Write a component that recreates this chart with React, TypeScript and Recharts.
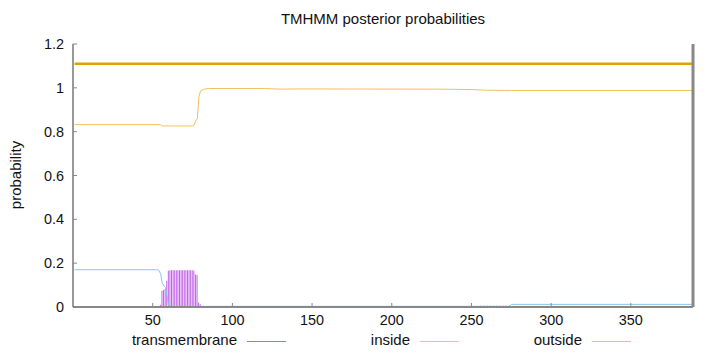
import { ComposedChart, Line, Bar, XAxis, YAxis } from "recharts";

// residue axis
const xTicks = [50, 100, 150, 200, 250, 300, 350];
const yTicks = [0, 0.2, 0.4, 0.6, 0.8, 1, 1.2];

// transmembrane posterior, drawn as impulses
const tmResidues = [
  55, 56, 57, 58, 59, 60, 61, 62, 63, 64, 65, 66, 67, 68, 69, 70, 71, 72, 73, 74, 75, 76, 77, 78, 79, 80, 81,
  232, 234, 236, 238, 240, 242, 244, 246, 248, 250, 252, 254, 256, 258, 260, 262, 264, 266, 268, 270, 272, 274,
];
const tmValues = [
  0.01, 0.074, 0.078, 0.082, 0.12, 0.165, 0.168, 0.168, 0.168, 0.168, 0.168, 0.168, 0.168, 0.168, 0.168, 0.168,
  0.168, 0.168, 0.168, 0.168, 0.168, 0.166, 0.148, 0.146, 0.02, 0.012, 0.005,
  0.002, 0.002, 0.002, 0.002, 0.002, 0.002, 0.002, 0.002, 0.002, 0.002, 0.002, 0.002, 0.006, 0.006, 0.006,
  0.006, 0.006, 0.006, 0.006, 0.006, 0.006, 0.006,
];

// inside posterior
const insideResidues = [1, 53, 54, 55, 56, 57, 58, 59, 60, 62, 274, 275, 389];
const insideValues = [0.17, 0.17, 0.166, 0.15, 0.11, 0.097, 0.09, 0.05, 0.008, 0.003, 0.003, 0.012, 0.012];

// outside posterior
const outsideResidues = [1, 55, 56, 75, 76, 77, 78, 79, 80, 82, 85, 120, 130, 140, 230, 250, 260, 275, 389];
const outsideValues = [
  0.832, 0.832, 0.826, 0.826, 0.83, 0.85, 0.86, 0.96, 0.985, 0.993, 0.997, 0.997, 0.994, 0.995, 0.994, 0.992,
  0.989, 0.988, 0.988,
];

// predicted topology bar (outside over whole sequence)
const topoResidues = [1, 389];
const topoLevel = [1.11, 1.11];

const tmData = tmResidues.map((pos, i) => ({ pos, tm: tmValues[i] }));
const insideData = insideResidues.map((pos, i) => ({ pos, p: insideValues[i] }));
const outsideData = outsideResidues.map((pos, i) => ({ pos, p: outsideValues[i] }));
const topoData = topoResidues.map((pos, i) => ({ pos, p: topoLevel[i] }));

const FONT = "'Liberation Sans', Arial, sans-serif";
const TM_COLOR = "#c160e6";
const IN_COLOR = "#87c8ea";
const OUT_COLOR = "#f0c060";

const XTick = (props: any) => {
  const { x, y, payload } = props;
  return (
    <g>
      <line x1={x} x2={x} y1={y - 8} y2={y - 12} stroke="#888" />
      <text x={x} y={y} dy="0.71em" textAnchor="middle" fontSize={14.4} fontFamily={FONT} fill="#111">
        {payload.value}
      </text>
    </g>
  );
};

const YTick = (props: any) => {
  const { x, y, payload } = props;
  return (
    <g>
      <line x1={x + 9} x2={x + 13} y1={y} y2={y} stroke="#888" />
      <text x={x} y={y} dy="0.355em" textAnchor="end" fontSize={14.4} fontFamily={FONT} fill="#111">
        {payload.value}
      </text>
    </g>
  );
};

const RightTick = (props: any) => {
  const { x, y } = props;
  return <line x1={x - 1} x2={x - 5} y1={y} y2={y} stroke="#888" />;
};

const legendItems = [
  { name: "transmembrane", color: "#b070e0", textRight: 237, lineLeft: 247 },
  { name: "inside", color: "#a8d4e6", textRight: 410, lineLeft: 420 },
  { name: "outside", color: "#f0c070", textRight: 582, lineLeft: 592 },
];

export default function App() {
  return (
    <div style={{ position: "absolute", left: 0, top: 0, width: 720, height: 352, background: "#fff" }}>
      <div
        style={{
          position: "absolute",
          left: 73,
          width: 620,
          top: 10,
          textAlign: "center",
          fontFamily: FONT,
          fontSize: 15,
          color: "#111",
        }}
      >
        TMHMM posterior probabilities
      </div>
      <div
        style={{
          position: "absolute",
          left: 15,
          top: 175,
          transform: "translate(-50%, -50%) rotate(-90deg)",
          fontFamily: FONT,
          fontSize: 15,
          color: "#111",
          whiteSpace: "nowrap",
        }}
      >
        probability
      </div>
      <ComposedChart
        width={720}
        height={352}
        data={tmData}
        margin={{ top: 44, right: 0, bottom: 0, left: 0 }}
      >
        <XAxis
          dataKey="pos"
          type="number"
          domain={[0, 389]}
          allowDataOverflow
          ticks={xTicks}
          tickSize={0}
          tickMargin={8}
          tick={<XTick />}
          height={45}
          axisLine={{ stroke: "#888", strokeWidth: 2 }}
          tickLine={false}
        />
        <YAxis
          yAxisId="l"
          type="number"
          domain={[0, 1.2]}
          allowDataOverflow
          ticks={yTicks}
          tickSize={0}
          tickMargin={9}
          tick={<YTick />}
          width={73}
          axisLine={{ stroke: "#333", strokeWidth: 1 }}
          tickLine={false}
        />
        <YAxis
          yAxisId="r"
          orientation="right"
          type="number"
          domain={[0, 1.2]}
          ticks={yTicks}
          tickSize={0}
          tickMargin={0}
          tick={<RightTick />}
          width={27}
          axisLine={{ stroke: "#888", strokeWidth: 3 }}
          tickLine={false}
        />
        <Bar yAxisId="l" dataKey="tm" fill={TM_COLOR} barSize={1} isAnimationActive={false} />
        <Line
          yAxisId="l"
          data={insideData}
          dataKey="p"
          type="linear"
          stroke={IN_COLOR}
          strokeWidth={1}
          dot={false}
          isAnimationActive={false}
        />
        <Line
          yAxisId="l"
          data={outsideData}
          dataKey="p"
          type="linear"
          stroke={OUT_COLOR}
          strokeWidth={1}
          dot={false}
          isAnimationActive={false}
        />
        <Line
          yAxisId="l"
          data={topoData}
          dataKey="p"
          type="linear"
          stroke="#e69f00"
          strokeWidth={2.5}
          dot={false}
          isAnimationActive={false}
        />
      </ComposedChart>
      {legendItems.map((it) => (
        <div key={it.name}>
          <div
            style={{
              position: "absolute",
              right: 720 - it.textRight,
              top: 331,
              fontFamily: FONT,
              fontSize: 15,
              color: "#111",
              whiteSpace: "nowrap",
            }}
          >
            {it.name}
          </div>
          <div
            style={{
              position: "absolute",
              left: it.lineLeft,
              top: 341,
              width: 39,
              height: 1,
              background: it.color,
            }}
          />
        </div>
      ))}
    </div>
  );
}
